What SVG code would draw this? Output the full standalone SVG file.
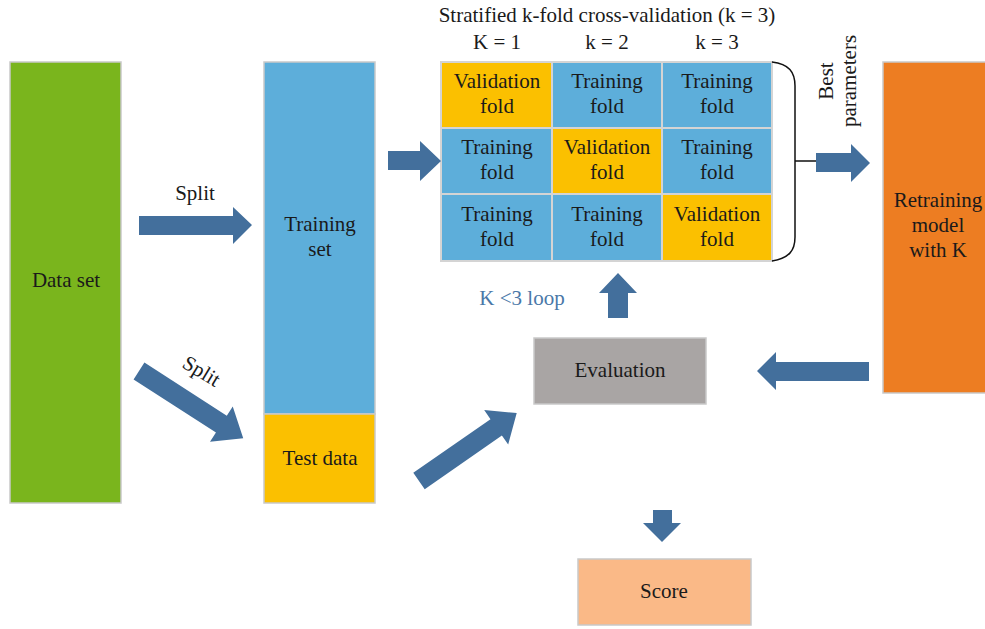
<svg xmlns="http://www.w3.org/2000/svg" width="985" height="629" viewBox="0 0 985 629">
<style>
text{font-family:"Liberation Serif","Times New Roman",serif;font-size:21px;fill:#1a1a1a;text-anchor:middle}
.box{stroke:#c9c9c9;stroke-width:1.5}
.cell{stroke:#d4d4d4;stroke-width:2}
.blue{fill:#5daeda}
.yel{fill:#fbc000}
.arr{fill:#436f9c}
.lbl{fill:#4a78a8}
</style>
<rect width="985" height="629" fill="#fff"/>
<g id="dataset"><rect class="box" x="10" y="62" width="111" height="441" fill="#7ab51d"/><text x="66" y="287">Data set</text></g>
<g id="trainingset"><rect class="box blue" x="264" y="62" width="111" height="352"/><text x="320" y="231">Training</text><text x="320" y="256">set</text></g>
<g id="testdata"><rect class="box yel" x="264" y="414" width="111" height="89"/><text x="320" y="465">Test data</text></g>
<g id="title"><text x="607" y="22">Stratified k-fold cross-validation (k = 3)</text>
<text x="497" y="49">K = 1</text><text x="607" y="49">k = 2</text><text x="717" y="49">k = 3</text></g>
<g id="grid">
<rect class="cell yel" x="441" y="62" width="111" height="66"/>
<rect class="cell blue" x="552" y="62" width="110" height="66"/>
<rect class="cell blue" x="662" y="62" width="110" height="66"/>
<rect class="cell blue" x="441" y="128" width="111" height="66"/>
<rect class="cell yel" x="552" y="128" width="110" height="66"/>
<rect class="cell blue" x="662" y="128" width="110" height="66"/>
<rect class="cell blue" x="441" y="194" width="111" height="67"/>
<rect class="cell blue" x="552" y="194" width="110" height="67"/>
<rect class="cell yel" x="662" y="194" width="110" height="67"/>
<text x="497" y="88">Validation</text><text x="497" y="113">fold</text>
<text x="607" y="88">Training</text><text x="607" y="113">fold</text>
<text x="717" y="88">Training</text><text x="717" y="113">fold</text>
<text x="497" y="154">Training</text><text x="497" y="179">fold</text>
<text x="607" y="154">Validation</text><text x="607" y="179">fold</text>
<text x="717" y="154">Training</text><text x="717" y="179">fold</text>
<text x="497" y="221">Training</text><text x="497" y="246">fold</text>
<text x="607" y="221">Training</text><text x="607" y="246">fold</text>
<text x="717" y="221">Validation</text><text x="717" y="246">fold</text>
</g>
<g id="retraining"><rect class="box" x="883" y="62" width="110" height="331" fill="#ed7d22"/><text x="938" y="207">Retraining</text><text x="938" y="232">model</text><text x="938" y="257">with K</text></g>
<g id="evaluation"><rect class="box" x="534" y="338" width="172" height="66" fill="#a9a5a4"/><text x="620" y="377">Evaluation</text></g>
<g id="score"><rect class="box" x="578" y="559" width="173" height="66" fill="#fab987"/><text x="664" y="598">Score</text></g>
<g id="connectors">
<path d="M772,62 C789,64 795,72 795,86 L795,237 C795,251 789,258 772,261 M795,161 H816" fill="none" stroke="#111" stroke-width="1.5"/>
<polygon class="arr" points="816,153 851,153 851,144 870,163 851,182 851,172 816,172"/>
<polygon class="arr" points="139,216 233,216 233,207 252,225 233,244 233,235 139,235"/>
<polygon class="arr" points="388,151 420,151 420,141 441,161 420,181 420,170 388,170"/>
<polygon class="arr" points="0,-10 98,-10 98,-21 124,0 98,21 98,10 0,10" transform="translate(139,371) rotate(32.8)"/>
<polygon class="arr" points="0,-10 94,-10 94,-21 119,0 94,21 94,10 0,10" transform="translate(419,481) rotate(-34.8)"/>
<polygon class="arr" points="608,318 608,293 599,293 618,273 637,293 628,293 628,318"/>
<polygon class="arr" points="869,362 776,362 776,352 757,371 776,390 776,381 869,381"/>
<polygon class="arr" points="653,510 672,510 672,523 681,523 662,542 643,523 653,523"/>
<text x="195" y="200">Split</text>
<text x="0" y="0" transform="translate(198,377) rotate(31)">Split</text>
<text class="lbl" x="522" y="305">K &lt;3 loop</text>
<text x="0" y="0" transform="translate(833,81) rotate(-90)">Best</text>
<text x="0" y="0" transform="translate(856,81) rotate(-90)">parameters</text>
</g>
</svg>
